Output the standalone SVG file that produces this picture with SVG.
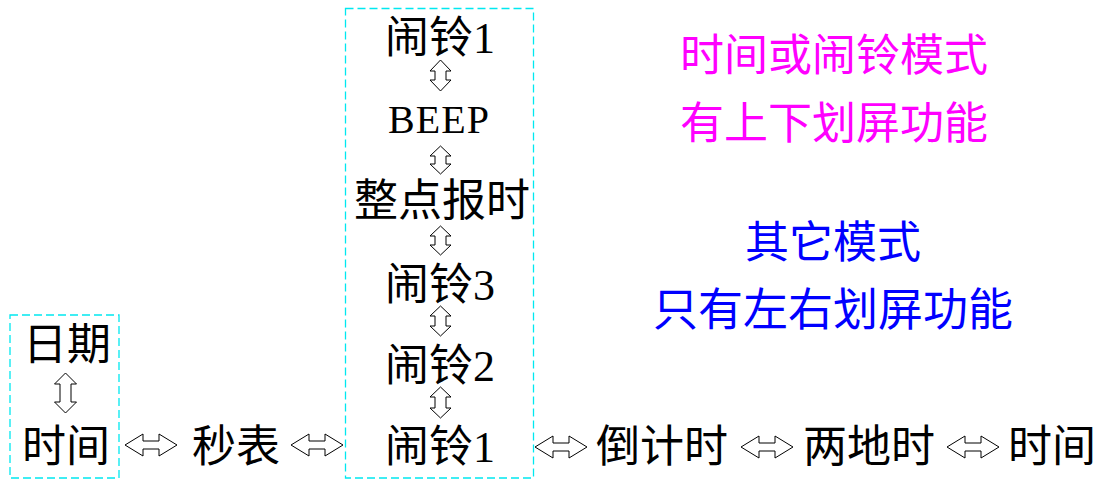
<svg xmlns="http://www.w3.org/2000/svg" width="1102" height="481" viewBox="0 0 1102 481">
<defs>
<style>
.t{font-family:"Liberation Serif","Noto Sans CJK SC",serif;font-size:44px;text-anchor:middle;fill:#000}
.m{fill:#FF00FF}
.b{fill:#0000FF}
.box{fill:none;stroke:#00E8F0;stroke-width:1.3;stroke-dasharray:8,4}
.ar{fill:#fff;stroke:#000;stroke-width:1}
</style>
<path id="h" d="M-26,0 L-8,-11 L-8,-4 L8,-4 L8,-11 L26,0 L8,11 L8,4 L-8,4 L-8,11 Z"/>
</defs>
<rect width="1102" height="481" fill="#fff"/>
<g id="group-left"><rect class="box" x="10" y="315" width="109" height="163"/></g>
<g id="group-alarm"><rect class="box" x="345.5" y="8.5" width="188" height="469.5"/></g>
<g id="n-date"><text class="t" x="67" y="360">日期</text></g>
<g id="n-time"><text class="t" x="66" y="462">时间</text></g>
<g id="n-stopwatch"><text class="t" x="236" y="462">秒表</text></g>
<g id="n-alarm1-top"><text class="t" x="440" y="53">闹铃1</text></g>
<g id="n-beep"><text class="t" x="439" y="133" style="font-size:40px;letter-spacing:1px">BEEP</text></g>
<g id="n-chime"><text class="t" x="442" y="216">整点报时</text></g>
<g id="n-alarm3"><text class="t" x="440" y="300">闹铃3</text></g>
<g id="n-alarm2"><text class="t" x="440" y="381">闹铃2</text></g>
<g id="n-alarm1"><text class="t" x="440" y="462">闹铃1</text></g>
<g id="n-countdown"><text class="t" x="662" y="462">倒计时</text></g>
<g id="n-dualtime"><text class="t" x="869" y="462">两地时</text></g>
<g id="n-time2"><text class="t" x="1052" y="462">时间</text></g>
<g id="note-magenta"><text class="t m" x="834" y="71">时间或闹铃模式</text><text class="t m" x="834" y="139">有上下划屏功能</text></g>
<g id="note-blue"><text class="t b" x="833" y="258">其它模式</text><text class="t b" x="833" y="326" style="font-size:45px">只有左右划屏功能</text></g>
<g id="connectors">
<use href="#h" class="ar" x="151" y="445"/>
<use href="#h" class="ar" x="317" y="445"/>
<use href="#h" class="ar" x="561" y="447"/>
<use href="#h" class="ar" x="767" y="447"/>
<use href="#h" class="ar" x="973" y="447"/>
<path class="ar" d="M65.5,373 L76.5,384 L71,384 L71,402 L76.5,402 L65.5,413 L54.5,402 L60,402 L60,384 L54.5,384 Z"/>
<path class="ar" d="M440.5,60 L451,71 L446,71 L446,80 L451,80 L440.5,91 L430,80 L435,80 L435,71 L430,71 Z"/>
<path class="ar" d="M440.5,146 L451,156 L446,156 L446,164 L451,164 L440.5,174 L430,164 L435,164 L435,156 L430,156 Z"/>
<path class="ar" d="M440.5,226 L451,236 L446,236 L446,245 L451,245 L440.5,255 L430,245 L435,245 L435,236 L430,236 Z"/>
<path class="ar" d="M440.5,306 L451,316 L446,316 L446,326 L451,326 L440.5,336 L430,326 L435,326 L435,316 L430,316 Z"/>
<path class="ar" d="M440.5,387 L451,397 L446,397 L446,408 L451,408 L440.5,418 L430,408 L435,408 L435,397 L430,397 Z"/>
</g>
</svg>
